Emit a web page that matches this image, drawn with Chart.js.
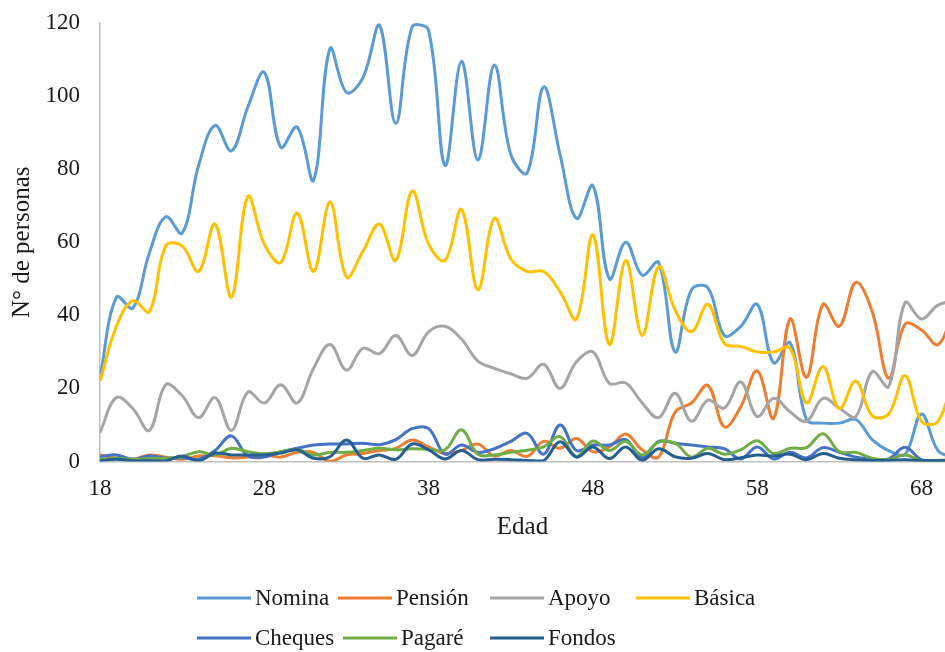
<!DOCTYPE html>
<html>
<head>
<meta charset="utf-8">
<script src="https://cdn.jsdelivr.net/npm/chart.js@4.4.1/dist/chart.umd.min.js"></script>
<style>
  html, body { margin: 0; padding: 0; background: #ffffff; overflow: hidden; }
  canvas { display: block; }
</style>
</head>
<body>
<canvas id="chart" width="945" height="652"></canvas>
<script>
// Edad (años)
const ages = [18, 19, 20, 21, 22, 23, 24, 25, 26, 27, 28, 29, 30, 31, 32, 33, 34, 35,
              36, 37, 38, 39, 40, 41, 42, 43, 44, 45, 46, 47, 48, 49, 50, 51, 52, 53,
              54, 55, 56, 57, 58, 59, 60, 61, 62, 63, 64, 65, 66, 67, 68, 69, 70];

// Nº de personas por tipo de cuenta
const nomina  = [23, 45, 42, 57, 67, 62.5, 81, 92, 85, 97, 106.5, 86, 91.5, 77, 113, 101, 105, 119.5,
                 92.5, 119, 118, 81, 109.5, 82.5, 108.5, 84, 79, 102.5, 84, 66.5, 75.5, 50, 60, 51, 54.5, 30,
                 47, 47.5, 34.5, 37, 43, 27, 32.5, 11.5, 10.5, 10.5, 11.5, 6, 3, 2, 13, 3, 1];
const pension = [1.8, 0.9, 0.6, 1.8, 1.2, 0.6, 1.5, 1.6, 1, 1.2, 1.8, 1.2, 2.5, 2.5, 0, 1.8, 2.2, 3,
                 3.6, 5.9, 4, 2.2, 3, 4.8, 1.5, 3, 1.4, 5.5, 3.6, 6.3, 2.7, 4, 7.5, 3.2, 1.2, 13.5,
                 16, 20.8, 9.5, 15, 24.8, 11.8, 39, 23, 43, 37, 49, 41, 22.8, 37.6, 36, 32, 42];
const apoyo   = [8, 17.5, 14.5, 8.5, 21, 18, 12, 17.5, 8.5, 19, 16, 21, 16, 25.5, 32, 25, 31, 29.5,
                 34.5, 29, 35.5, 37, 33.5, 27.5, 25.5, 24, 22.8, 26.6, 20, 27.3, 30, 21.4, 21.5, 16, 12, 18.7,
                 11, 16.8, 14.6, 21.8, 12.3, 17.3, 13.6, 11, 17.3, 14.6, 12.3, 24.6, 20.5, 43.5, 39, 42.8, 44];
const basica  = [22, 37, 44, 41, 59, 59, 52, 65, 45, 72.5, 59.5, 54.5, 68, 52, 71, 50.5, 57.5, 65,
                 55, 74, 59.5, 55, 69, 47, 66.5, 55.5, 52, 52, 46.5, 39, 62, 32, 55, 34.5, 53.3, 41.5,
                 35.5, 43, 32.3, 31.5, 30, 30, 31, 16, 26, 14.5, 22, 12.5, 13, 23.5, 11, 11, 24];
const cheques = [1.3, 1.8, 0.6, 1.5, 0.9, 1, 0.6, 3, 7, 1.5, 1.2, 2.7, 3.6, 4.5, 4.8, 4.8, 5, 4.6,
                 6, 9, 9, 2, 4.5, 2.5, 3.5, 5.5, 7.7, 2, 10, 3, 4.5, 4.5, 6, 1, 5.5, 5,
                 4.5, 4, 3.5, 0.7, 4, 0.7, 2.5, 1, 3.8, 2.5, 1.2, 0.7, 0.7, 3.9, 0.5, 0.3, 0.3];
const pagare  = [0.5, 0.9, 0.6, 0.8, 0.9, 1.3, 2.7, 1.8, 3.6, 2.7, 2.1, 2.7, 3.2, 1.8, 2.5, 2.5, 3, 3.6,
                 3.2, 3.5, 3.3, 3.2, 8.7, 2, 1.8, 2.5, 3.1, 4, 6.8, 1.4, 5.6, 3, 5.5, 1.8, 5.3, 5,
                 1.2, 3.6, 2, 3.2, 5.7, 2.2, 3.6, 3.8, 7.6, 2.7, 2.5, 0.9, 0.5, 1.8, 0.2, 0.3, 0.5];
const fondos  = [0.2, 0.6, 0.2, 0.2, 0.2, 1.5, 0.2, 2.3, 1.8, 1.8, 1.8, 2.3, 3.2, 0.9, 1.3, 5.9, 0.9, 1.8,
                 0.6, 4.8, 3.2, 0.7, 3, 0.5, 0.6, 0.5, 0.3, 0.2, 5.4, 1.2, 4, 0.8, 4, 0.3, 3.5, 1.3,
                 0.9, 2.2, 0.5, 1, 1.8, 1.5, 2, 0.5, 2.2, 0.9, 0.5, 0.3, 0.3, 0.5, 0.2, 0.2, 0.2];

const seriesNames  = ['Nomina', 'Pensión', 'Apoyo', 'Básica', 'Cheques', 'Pagaré', 'Fondos'];
const seriesValues = [nomina, pension, apoyo, basica, cheques, pagare, fondos];
const seriesColors = ['#5B9BD5', '#ED7D31', '#A5A5A5', '#FFC000', '#4472C4', '#70AD47', '#255E91'];

const xTickValues = [18, 28, 38, 48, 58, 68];
const xTitle = 'Edad';
const yTitle = 'N° de personas';

const serif = "'Liberation Serif', 'Times New Roman', serif";
const textColor = '#1a1a1a';
const axisColor = '#BFBFBF';

// Legend drawn as a left-aligned grid of line samples and names
const gridLegend = {
  id: 'gridLegend',
  afterDraw(chart, args, opts) {
    const ctx = chart.ctx;
    ctx.save();
    ctx.font = opts.fontSize + 'px ' + serif;
    ctx.textBaseline = 'middle';
    ctx.textAlign = 'left';
    chart.data.datasets.forEach((ds, i) => {
      const [x, y] = opts.slots[i];
      ctx.strokeStyle = ds.borderColor;
      ctx.lineWidth = 3;
      ctx.beginPath();
      ctx.moveTo(x, y);
      ctx.lineTo(x + opts.sample, y);
      ctx.stroke();
      ctx.fillStyle = textColor;
      ctx.fillText(ds.label, x + opts.sample + opts.gap, y + 1);
    });
    ctx.restore();
  }
};

const datasets = seriesNames.map((name, i) => ({
  label: name,
  data: seriesValues[i].map((v, j) => ({ x: ages[j], y: v })),
  borderColor: seriesColors[i],
  backgroundColor: seriesColors[i],
  borderWidth: 3,
  pointRadius: 0,
  tension: 0.38,
  fill: false,
  order: seriesNames.length - i
}));

new Chart(document.getElementById('chart'), {
  type: 'line',
  data: { datasets },
  plugins: [gridLegend],
  options: {
    responsive: false,
    devicePixelRatio: 1,
    animation: false,
    layout: { padding: { top: 23, left: 0, right: 0, bottom: 110 } },
    plugins: {
      legend: { display: false },
      tooltip: { enabled: false },
      gridLegend: {
        fontSize: 23,
        sample: 54,
        gap: 4,
        slots: [[197, 598], [338, 598], [490, 598], [636, 598],
                [197, 638], [343, 638], [490, 638]]
      }
    },
    scales: {
      x: {
        type: 'linear',
        min: 18,
        max: 69.43,
        grid: { display: false, drawTicks: false },
        border: { display: true, color: axisColor, width: 1.5 },
        ticks: {
          font: { family: serif, size: 23 },
          color: textColor,
          padding: 14,
          maxRotation: 0
        },
        afterBuildTicks: (scale) => {
          scale.ticks = xTickValues.map(v => ({ value: v }));
        },
        afterFit: (scale) => {
          scale.height = 80.5;
          scale.paddingLeft = 0;
          scale.paddingRight = 0;
        },
        title: {
          display: true,
          text: xTitle,
          font: { family: serif, size: 25 },
          color: textColor,
          padding: { top: 0, bottom: 0 }
        }
      },
      y: {
        min: 0,
        max: 120,
        grid: { display: false, drawTicks: false },
        border: { display: true, color: axisColor, width: 1.5 },
        ticks: {
          stepSize: 20,
          font: { family: serif, size: 23 },
          color: textColor,
          padding: 20
        },
        afterFit: (scale) => {
          scale.width = 100;
          scale.paddingTop = 0;
          scale.paddingBottom = 0;
        },
        title: {
          display: true,
          text: yTitle,
          font: { family: serif, size: 25 },
          color: textColor,
          padding: { top: 7, bottom: 0 }
        }
      }
    }
  }
});
</script>
</body>
</html>
